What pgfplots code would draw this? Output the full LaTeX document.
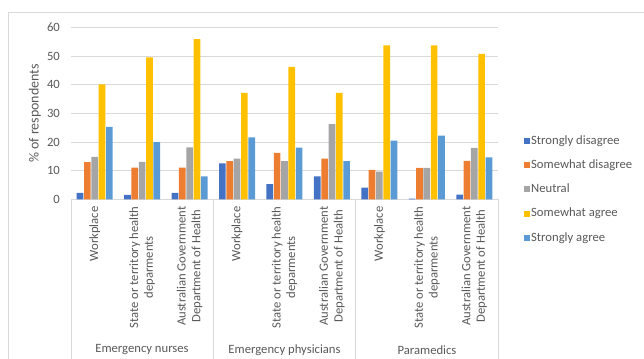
\documentclass[border=0pt]{standalone}
\usepackage{fontspec}
\setmainfont{Carlito}
\usepackage{pgfplots}
\pgfplotsset{compat=1.18}
\definecolor{c1}{HTML}{4472C4}
\definecolor{c2}{HTML}{ED7D31}
\definecolor{c3}{HTML}{A5A5A5}
\definecolor{c4}{HTML}{FFC000}
\definecolor{c5}{HTML}{5B9BD5}
\definecolor{txt}{HTML}{595959}
\definecolor{gridc}{HTML}{D9D9D9}
\begin{document}
\fontsize{9.5pt}{11pt}\selectfont
\begin{tikzpicture}
\useasboundingbox (0pt,0pt) rectangle (483pt,269.25pt);
\draw[gridc,line width=0.6pt] (6pt,0pt) -- (6pt,260.25pt) -- (490pt,260.25pt);
\begin{axis}[
  at={(53.25pt,119.625pt)}, anchor=south west,
  scale only axis, width=320.25pt, height=129pt,
  ybar=0.5pt, bar width=5pt,
  xmin=-0.5, xmax=8.5, ymin=0, ymax=60,
  ytick={0,10,...,60},
  xtick={0,...,8},
  xticklabels={Workplace,{State or territory health\\deparments},{Australian Government\\Department of Health},Workplace,{State or territory health\\deparments},{Australian Government\\Department of Health},Workplace,{State or territory health\\deparments},{Australian Government\\Department of Health}},
  xticklabel style={rotate=90, anchor=east, align=center, font=\fontsize{9.5pt}{11pt}\selectfont, text=txt, inner sep=5pt},
  yticklabel style={font=\fontsize{9.5pt}{11pt}\selectfont, text=txt, xshift=-5pt},
  /pgf/number format/assume math mode=true,
  major tick length=0pt,
  ymajorgrids, xmajorgrids=false, grid style={draw=gridc, line width=0.6pt},
  axis x line*=bottom, axis y line*=left,
  x axis line style={draw=gridc, line width=0.6pt, -},
  y axis line style={draw=none},
  ylabel={\% of respondents},
  ylabel style={at={(axis description cs:-0.0843,0.5)}, anchor=center, text=txt, font=\fontsize{10.5pt}{12pt}\selectfont},
  legend style={at={(1.0515,0.398)}, anchor=north west, draw=none, fill=none,
    font=\fontsize{9.5pt}{11pt}\selectfont, text=txt, row sep=8.0pt,
    nodes={inner sep=0.6pt, text height=7pt, text depth=2pt, anchor=west}},
  legend cell align=left,
  legend image code/.code={\fill[#1] (0pt,-2.3pt) rectangle (4.6pt,2.3pt);},
]
\addplot[fill=c1, draw=none] coordinates {(0,2.3) (1,1.6) (2,2.3) (3,12.6) (4,5.4) (5,8.1) (6,4.1) (7,0.3) (8,1.7)};
\addplot[fill=c2, draw=none] coordinates {(0,13.0) (1,11.1) (2,11.1) (3,13.4) (4,16.3) (5,14.3) (6,10.3) (7,11.0) (8,13.5)};
\addplot[fill=c3, draw=none] coordinates {(0,14.9) (1,13.1) (2,18.2) (3,14.3) (4,13.4) (5,26.3) (6,9.7) (7,11.0) (8,18.0)};
\addplot[fill=c4, draw=none] coordinates {(0,40.2) (1,49.6) (2,55.9) (3,37.2) (4,46.3) (5,37.2) (6,53.8) (7,53.8) (8,50.8)};
\addplot[fill=c5, draw=none] coordinates {(0,25.3) (1,20.0) (2,8.1) (3,21.7) (4,18.1) (5,13.4) (6,20.5) (7,22.3) (8,14.7)};
\legend{Strongly disagree,Somewhat disagree,Neutral,Somewhat agree,Strongly agree}
\end{axis}
\foreach \xx in {53.25,160,266.8,373.5} \draw[gridc,line width=0.6pt] (\xx pt,0pt) -- (\xx pt,119.625pt);
\node[text=txt] at (106.5pt,6.75pt) {Emergency nurses};
\node[text=txt] at (213.4pt,6.75pt) {Emergency physicians};
\node[text=txt] at (320.25pt,6.75pt) {Paramedics};
\end{tikzpicture}
\end{document}
